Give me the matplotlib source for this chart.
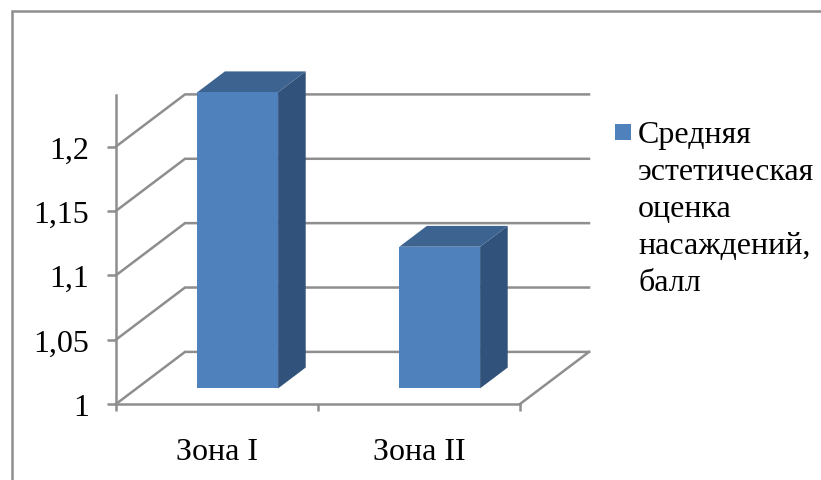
import matplotlib
matplotlib.use('Agg')
import matplotlib.pyplot as plt
from matplotlib.patches import Polygon, Rectangle
from matplotlib.lines import Line2D

categories = ['Зона I', 'Зона II']
values = [1.23, 1.11]
y_ticks = [1, 1.05, 1.1, 1.15, 1.2]
y_tick_labels = ['1', '1,05', '1,1', '1,15', '1,2']
series_label = 'Средняя\nэстетическая\nоценка\nнасаждений,\nбалл'

FRONT = '#4f81bd'
TOP = '#3d6390'
SIDE = '#31527a'
LINE = '#8e8e8e'
LW = 1.8
FS = 23

W, H = 821, 481
plt.rcParams['font.family'] = ['Liberation Serif', 'DejaVu Serif']
fig = plt.figure(figsize=(W / 100, H / 100), dpi=100, facecolor='white')

# front plane of the 3D box, in pixels
left, right, bottom, top = 116, 520, 405, 96
ax = fig.add_axes([left / W, 1 - bottom / H, (right - left) / W, (bottom - top) / H])
ax.set_xlim(0, 2)
ax.set_ylim(1, 1.24)
ax.patch.set_visible(False)

# shift per unit of depth, in data units
depth_x = 69 / 202
depth_y = 52 / 1285


def proj(x, y, d):
    return x + d * depth_x, y + d * depth_y


# floor and walls
for v in y_ticks:
    x0, y0 = proj(0, v, 1)
    x1, y1 = proj(2, v, 1)
    ax.plot([0, x0, x1], [v, y0, y1], color=LINE, lw=LW, clip_on=False, zorder=1,
            solid_joinstyle='miter')
fx, fy = proj(2, 1, 1)
ax.plot([2, fx], [1, fy], color=LINE, lw=LW, clip_on=False, zorder=1)

# bars as three faces
bar_w = 0.4
d0, d1 = 0.3, 0.7
for i, v in enumerate(values):
    xl = i + 0.5 - bar_w / 2
    xr = i + 0.5 + bar_w / 2
    front = [proj(xl, 1, d0), proj(xr, 1, d0), proj(xr, v, d0), proj(xl, v, d0)]
    side = [proj(xr, 1, d0), proj(xr, 1, d1), proj(xr, v, d1), proj(xr, v, d0)]
    cap = [proj(xl, v, d0), proj(xr, v, d0), proj(xr, v, d1), proj(xl, v, d1)]
    ax.add_patch(Polygon(side, closed=True, fc=SIDE, ec='none', clip_on=False, zorder=3))
    ax.add_patch(Polygon(cap, closed=True, fc=TOP, ec='none', clip_on=False, zorder=3))
    ax.add_patch(Polygon(front, closed=True, fc=FRONT, ec='none', clip_on=False, zorder=4))

for s in ['top', 'right']:
    ax.spines[s].set_visible(False)
for s in ['left', 'bottom']:
    ax.spines[s].set_color(LINE)
    ax.spines[s].set_linewidth(LW)

ax.set_yticks(y_ticks)
ax.set_yticklabels(y_tick_labels, fontsize=FS)
ax.tick_params(axis='y', length=6.5, width=LW, color=LINE, pad=13)

ax.set_xticks([0, 1, 2])
ax.set_xticklabels([])
ax.set_xticks([0.5, 1.5], minor=True)
ax.set_xticklabels(categories, minor=True, fontsize=FS)
ax.tick_params(axis='x', which='major', length=5, width=LW, color=LINE)
ax.tick_params(axis='x', which='minor', length=0, pad=24)

# legend
fig.add_artist(Rectangle((615 / W, 1 - 141 / H), 16 / W, 16 / H, transform=fig.transFigure,
                         fc=FRONT, ec='none'))
fig.text(638 / W, 1 - 121.5 / H, series_label, fontsize=FS, va='top', ha='left', linespacing=1.355)

# chart frame, open on the right and bottom
fig.add_artist(Line2D([11.5 / W, 11.5 / W, 1], [0, 1 - 11.5 / H, 1 - 11.5 / H],
                      color=LINE, lw=LW, solid_joinstyle='miter'))

fig.savefig('out.png', dpi=100)
